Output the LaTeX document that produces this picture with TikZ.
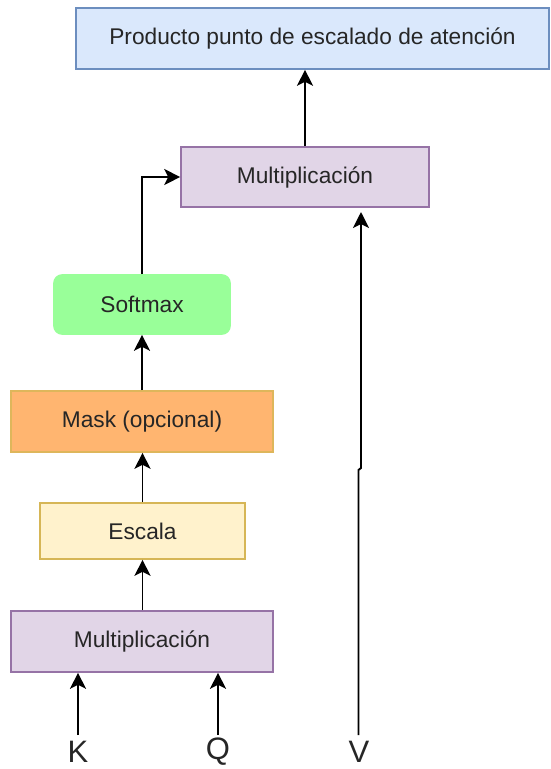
\documentclass[tikz,border=0pt]{standalone}
\usepackage{fontspec}
\setmainfont{Liberation Sans}
\usetikzlibrary{arrows.meta}
\definecolor{blueF}{HTML}{DAE8FC}
\definecolor{blueD}{HTML}{6C8EBF}
\definecolor{purF}{HTML}{E1D5E7}
\definecolor{purD}{HTML}{9673A6}
\definecolor{grnF}{HTML}{99FF99}
\definecolor{orF}{HTML}{FFB570}
\definecolor{yelF}{HTML}{FFF2CC}
\definecolor{yelD}{HTML}{D6B656}
\definecolor{txt}{HTML}{262626}
\tikzset{
  box/.style={draw, line width=1.6pt, inner sep=0pt, text=txt,
    font=\fontsize{22.7}{27}\selectfont},
  conn/.style={line width=1.9pt, -{Stealth[length=16pt,width=16pt,inset=4pt]}},
  lbl/.style={inner sep=0pt, text=txt, font=\fontsize{31}{35}\selectfont}
}
\begin{document}
\begin{tikzpicture}[x=1pt,y=-1pt]
\useasboundingbox (0,0) rectangle (550,769);
\node[box, fill=blueF, draw=blueD, minimum width=473pt, minimum height=61pt] (top) at (312.5,38.5) {Producto punto de escalado de atención};
\node[box, fill=purF, draw=purD, minimum width=248pt, minimum height=60pt] (mult1) at (305,177) {Multiplicación};
\node[box, fill=grnF, draw=grnF, rounded corners=8pt, minimum width=176pt, minimum height=59pt] (soft) at (142,304.5) {Softmax};
\node[box, fill=orF, draw=yelD!80!orF, minimum width=262pt, minimum height=61pt] (mask) at (142,421.5) {Mask (opcional)};
\node[box, fill=yelF, draw=yelD, minimum width=205pt, minimum height=56pt] (esc) at (142.5,531) {Escala};
\node[box, fill=purF, draw=purD, minimum width=262pt, minimum height=61pt] (mult2) at (142,641.5) {Multiplicación};
\node[lbl] (K) at (78,752) {K};
\node[lbl] (Q) at (218,752) {Q};
\node[lbl] (V) at (359,752) {V};
\coordinate (kb) at (78,735);
\coordinate (qb) at (218,735);
\coordinate (vb) at (358.5,735);
\coordinate (vj1) at (358.5,470);
\coordinate (vj2) at (361,468);
\coordinate (vt) at (361,212);
\draw[conn] (kb) -- (kb |- mult2.south);
\draw[conn] (qb) -- (qb |- mult2.south);
\draw[conn] (mult2.north -| esc.south) -- (esc.south);
\draw[conn] (esc.north) -- (esc.north |- mask.south);
\draw[conn] (mask.north) -- (soft.south);
\draw[conn] (soft.north) |- (mult1.west);
\draw[conn] (mult1.north) -- (mult1.north |- top.south);
\draw[conn] (vb) -- (vj1) -- (vj2) -- (vt);
\end{tikzpicture}
\end{document}
